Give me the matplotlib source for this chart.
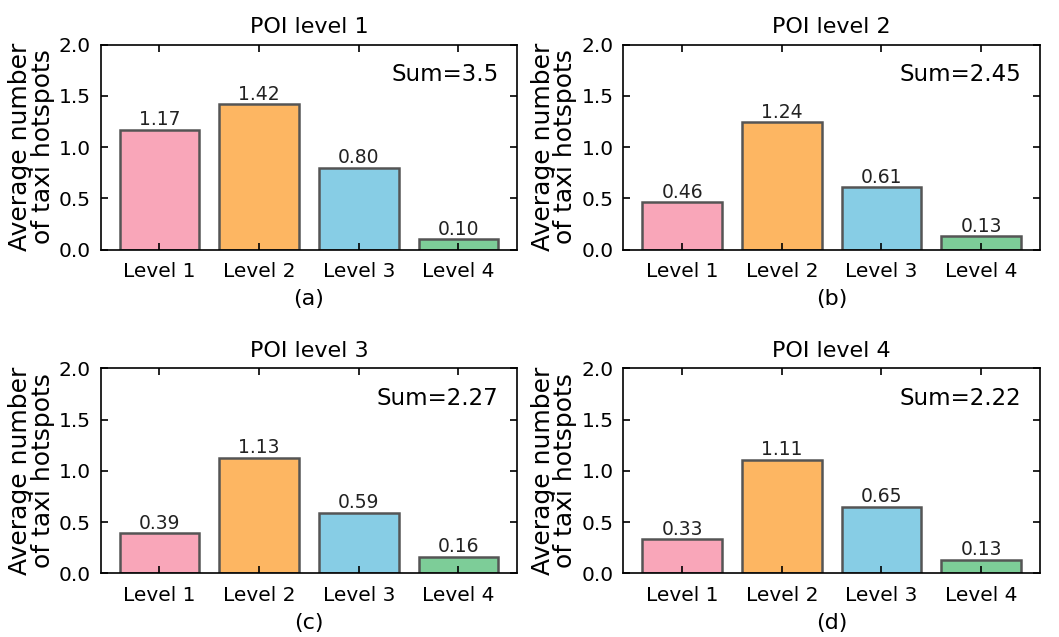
import matplotlib
matplotlib.use("Agg")
import matplotlib.pyplot as plt

categories = ["Level 1", "Level 2", "Level 3", "Level 4"]
titles = ["POI level 1", "POI level 2", "POI level 3", "POI level 4"]
captions = ["(a)", "(b)", "(c)", "(d)"]
sums = ["3.5", "2.45", "2.27", "2.22"]
values_a = [1.17, 1.42, 0.80, 0.10]
values_b = [0.46, 1.24, 0.61, 0.13]
values_c = [0.39, 1.13, 0.59, 0.16]
values_d = [0.33, 1.11, 0.65, 0.13]
all_values = [values_a, values_b, values_c, values_d]
colors = ["#F9A6B9", "#FDB662", "#87CDE5", "#7DCD98"]
yticks = [0.0, 0.5, 1.0, 1.5, 2.0]

plt.rcParams['font.family'] = ['DejaVu Sans']
fig, axes = plt.subplots(2, 2, figsize=(10.59, 6.37), dpi=100)
fig.subplots_adjust(left=0.095, right=0.982, top=0.93, bottom=0.10, wspace=0.255, hspace=0.58)

for ax, vals, t, cap, s in zip(axes.flat, all_values, titles, captions, sums):
    x = range(len(categories))
    ax.bar(x, vals, width=0.8, color=colors, edgecolor="#555555", linewidth=1.8)
    for xi, v in zip(x, vals):
        ax.text(xi, v + 0.005, f"{v:.2f}", ha="center", va="bottom", fontsize=13.5, color="#222222")
    ax.set_ylim(0, 2.0)
    ax.set_yticks(yticks)
    ax.set_yticklabels([f"{y:.1f}" for y in yticks])
    ax.set_xticks(list(x))
    ax.set_xticklabels(categories)
    ax.tick_params(direction="in", top=True, right=True, labelsize=14.5, length=5, width=1.2, pad=7)
    ax.tick_params(axis="x", pad=9)
    ax.set_title(t, fontsize=16, pad=8)
    ax.set_xlabel(cap, fontsize=16, labelpad=6)
    ax.set_ylabel("Average number\nof taxi hotspots", fontsize=18, linespacing=0.9, labelpad=3)
    ax.text(0.955, 0.855, f"Sum={s}", transform=ax.transAxes, ha="right", va="center", fontsize=16.5)
    for sp in ax.spines.values():
        sp.set_linewidth(1.2)

fig.savefig("out.png", dpi=100)
